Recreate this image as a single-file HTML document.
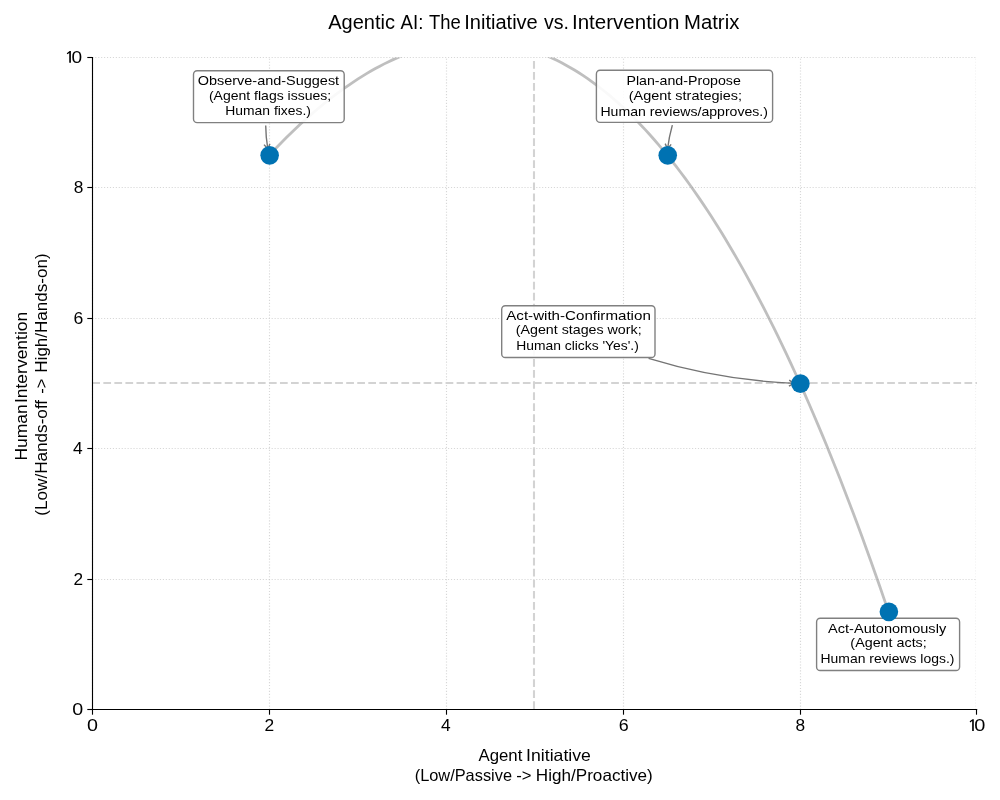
<!DOCTYPE html>
<html><head><meta charset="utf-8"><title>Agentic AI Matrix</title>
<style>
html,body{margin:0;padding:0;background:#fff;}
body{width:1000px;height:800px;overflow:hidden;}
svg{display:block;will-change:transform;font-family:"Liberation Sans",sans-serif;}
text{fill:#000;}
</style></head><body>
<svg width="1000" height="800" viewBox="0 0 1000 800">
<rect width="1000" height="800" fill="#fff"/>
<defs><clipPath id="ax"><rect x="92.30" y="57.40" width="884.65" height="652.20"/></clipPath></defs>
<g stroke="#b0b0b0" stroke-opacity="0.5" stroke-width="1.11" stroke-dasharray="1.11 1.83" fill="none"><path d="M92.5 709.60V57.40"/><path d="M92.30 709.5H976.95"/><path d="M269.5 709.60V57.40"/><path d="M92.30 579.5H976.95"/><path d="M446.5 709.60V57.40"/><path d="M92.30 448.5H976.95"/><path d="M623.5 709.60V57.40"/><path d="M92.30 318.5H976.95"/><path d="M800.5 709.60V57.40"/><path d="M92.30 187.5H976.95"/><path stroke-opacity="0.18" d="M975.5 709.60V57.40"/><path d="M92.30 57.5H976.95"/></g>
<g stroke="#d3d3d3" stroke-width="2.08" stroke-dasharray="7.71 3.33" fill="none"><path d="M92.30 383H976.95"/><path d="M534 709.00V57.40"/></g>
<polyline clip-path="url(#ax)" points="269.23,155.23 273.65,150.55 278.08,145.95 282.50,141.45 286.92,137.03 291.35,132.71 295.77,128.48 300.19,124.34 304.62,120.29 309.04,116.34 313.46,112.47 317.89,108.71 322.31,105.04 326.73,101.46 331.16,97.98 335.58,94.60 340.00,91.31 344.43,88.12 348.85,85.03 353.27,82.03 357.70,79.14 362.12,76.35 366.54,73.65 370.96,71.06 375.39,68.57 379.81,66.18 384.23,63.89 388.66,61.70 393.08,59.62 397.50,57.64 401.93,55.77 406.35,54.00 410.77,52.34 415.20,50.78 419.62,49.33 424.04,47.99 428.47,46.76 432.89,45.63 437.31,44.61 441.74,43.70 446.16,42.91 450.58,42.22 455.01,41.64 459.43,41.18 463.85,40.83 468.28,40.59 472.70,40.46 477.12,40.45 481.55,40.55 485.97,40.76 490.39,41.09 494.82,41.54 499.24,42.11 503.66,42.79 508.09,43.59 512.51,44.50 516.93,45.54 521.36,46.69 525.78,47.97 530.20,49.36 534.62,50.88 539.05,52.51 543.47,54.27 547.89,56.16 552.32,58.16 556.74,60.29 561.16,62.54 565.59,64.92 570.01,67.42 574.43,70.05 578.86,72.80 583.28,75.68 587.70,78.69 592.13,81.82 596.55,85.09 600.97,88.48 605.40,92.00 609.82,95.66 614.24,99.44 618.67,103.36 623.09,107.40 627.51,111.58 631.94,115.89 636.36,120.34 640.78,124.92 645.21,129.63 649.63,134.48 654.05,139.46 658.48,144.58 662.90,149.84 667.32,155.23 671.75,160.76 676.17,166.43 680.59,172.24 685.02,178.19 689.44,184.27 693.86,190.50 698.29,196.87 702.71,203.38 707.13,210.03 711.56,216.83 715.98,223.76 720.40,230.85 724.82,238.07 729.25,245.44 733.67,252.96 738.09,260.62 742.52,268.43 746.94,276.38 751.36,284.49 755.79,292.74 760.21,301.13 764.63,309.68 769.06,318.38 773.48,327.23 777.90,336.23 782.33,345.38 786.75,354.68 791.17,364.13 795.60,373.74 800.02,383.50 804.44,393.41 808.87,403.48 813.29,413.71 817.71,424.09 822.14,434.62 826.56,445.32 830.98,456.17 835.41,467.17 839.83,478.34 844.25,489.66 848.68,501.15 853.10,512.79 857.52,524.60 861.95,536.56 866.37,548.69 870.79,560.98 875.22,573.43 879.64,586.05 884.06,598.83 888.49,611.77" fill="none" stroke="#808080" stroke-opacity="0.5" stroke-width="2.78" stroke-linejoin="round"/>
<g stroke="#000" stroke-width="1.11" fill="none"><path d="M92.5 57.10V710.40"/><path d="M92.00 709.5H977.25"/><path d="M92.5 709.8v4.9"/><path d="M92.2 709.5h-4.9"/><path d="M269.5 709.8v4.9"/><path d="M92.2 579.5h-4.9"/><path d="M446.5 709.8v4.9"/><path d="M92.2 448.5h-4.9"/><path d="M623.5 709.8v4.9"/><path d="M92.2 318.5h-4.9"/><path d="M800.5 709.8v4.9"/><path d="M92.2 187.5h-4.9"/><path d="M976.5 709.8v4.9"/><path d="M92.2 57.5h-4.9"/></g>
<g stroke="#747474" stroke-width="1.39" fill="none" stroke-linecap="butt" stroke-linejoin="miter"><path d="M265.70 125.41Q265.81 137.25 267.83 149.07"/><path d="M264.03 144.65L267.83 149.07L269.94 143.64"/><path d="M672.34 125.09Q669.02 136.77 667.56 148.98"/><path d="M665.17 143.65L667.56 148.98L671.13 144.37"/><path d="M648.57 358.38Q719.14 380.14 794.04 383.36"/><path d="M788.91 386.14L794.04 383.36L789.17 380.15"/></g>
<rect x="193.50" y="70.80" width="150.70" height="51.80" rx="3.6" ry="3.6" fill="#fff" fill-opacity="0.9" stroke="#808080" stroke-width="1.39"/>
<rect x="596.40" y="70.30" width="176.20" height="52.10" rx="3.6" ry="3.6" fill="#fff" fill-opacity="0.9" stroke="#808080" stroke-width="1.39"/>
<rect x="501.70" y="305.80" width="153.30" height="51.70" rx="3.6" ry="3.6" fill="#fff" fill-opacity="0.9" stroke="#808080" stroke-width="1.39"/>
<rect x="816.60" y="618.30" width="143.00" height="52.20" rx="3.6" ry="3.6" fill="#fff" fill-opacity="0.9" stroke="#808080" stroke-width="1.39"/>
<circle cx="269.63" cy="155.33" r="9.3" fill="#0072B2"/>
<circle cx="667.72" cy="155.33" r="9.3" fill="#0072B2"/>
<circle cx="800.42" cy="383.60" r="9.3" fill="#0072B2"/>
<circle cx="888.88" cy="611.87" r="9.3" fill="#0072B2"/>
<text id="title0" x="328.21" y="28.50" font-size="19.60" textLength="66.75" lengthAdjust="spacingAndGlyphs">Agentic</text>
<text id="title1" x="400.55" y="28.50" font-size="19.60" textLength="22.76" lengthAdjust="spacingAndGlyphs">AI:</text>
<text id="title2" x="428.91" y="28.50" font-size="19.60" textLength="31.74" lengthAdjust="spacingAndGlyphs">The</text>
<text id="title3" x="464.22" y="28.50" font-size="19.60" textLength="73.56" lengthAdjust="spacingAndGlyphs">Initiative</text>
<text id="title4" x="544.06" y="28.50" font-size="19.60" textLength="24.99" lengthAdjust="spacingAndGlyphs">vs.</text>
<text id="title5" x="571.99" y="28.50" font-size="19.60" textLength="107.34" lengthAdjust="spacingAndGlyphs">Intervention</text>
<text id="title6" x="684.04" y="28.50" font-size="19.60" textLength="55.26" lengthAdjust="spacingAndGlyphs">Matrix</text>
<text id="xl1_0" x="478.45" y="760.90" font-size="16.50" textLength="43.86" lengthAdjust="spacingAndGlyphs">Agent</text>
<text id="xl1_1" x="526.14" y="760.90" font-size="16.50" textLength="64.72" lengthAdjust="spacingAndGlyphs">Initiative</text>
<text id="xl2_0" x="414.70" y="780.70" font-size="16.50" textLength="97.33" lengthAdjust="spacingAndGlyphs">(Low/Passive</text>
<text id="xl2_1" x="516.17" y="780.70" font-size="16.50" textLength="15.28" lengthAdjust="spacingAndGlyphs">-&gt;</text>
<text id="xl2_2" x="535.85" y="780.70" font-size="16.50" textLength="116.91" lengthAdjust="spacingAndGlyphs">High/Proactive)</text>
<text id="yl1_0" transform="translate(27.20 460.62) rotate(-90)" font-size="16.50" textLength="56.42" lengthAdjust="spacingAndGlyphs">Human</text>
<text id="yl1_1" transform="translate(27.20 403.11) rotate(-90)" font-size="16.50" textLength="91.41" lengthAdjust="spacingAndGlyphs">Intervention</text>
<text id="yl2_0" transform="translate(46.90 515.73) rotate(-90)" font-size="16.50" textLength="115.84" lengthAdjust="spacingAndGlyphs">(Low/Hands-off</text>
<text id="yl2_1" transform="translate(46.90 393.74) rotate(-90)" font-size="16.50" textLength="15.17" lengthAdjust="spacingAndGlyphs">-&gt;</text>
<text id="yl2_2" transform="translate(46.90 372.70) rotate(-90)" font-size="16.50" textLength="119.27" lengthAdjust="spacingAndGlyphs">High/Hands-on)</text>
<text id="yt0" x="72.19" y="714.90" font-size="16.40" textLength="10.96" lengthAdjust="spacingAndGlyphs">0</text>
<text id="yt2" x="73.47" y="584.90" font-size="16.40" textLength="9.61" lengthAdjust="spacingAndGlyphs">2</text>
<text id="yt4" x="73.02" y="453.90" font-size="16.40" textLength="9.67" lengthAdjust="spacingAndGlyphs">4</text>
<text id="yt6" x="73.63" y="323.90" font-size="16.40" textLength="9.82" lengthAdjust="spacingAndGlyphs">6</text>
<text id="yt8" x="73.74" y="192.90" font-size="16.40" textLength="9.62" lengthAdjust="spacingAndGlyphs">8</text>
<text id="yt10a" x="66.75" y="62.90" font-size="16.40" fill="none" style="fill:none">1</text>
<path d="M70.90 51.05L70.90 62.80L69.25 62.80L69.25 53.00L67.40 54.30L66.75 53.15L69.65 51.05Z" fill="#000"/>
<text id="yt10b" x="71.60" y="62.90" font-size="16.40" textLength="10.64" lengthAdjust="spacingAndGlyphs">0</text>
<text id="xt0" x="86.98" y="731.00" font-size="16.40" textLength="10.99" lengthAdjust="spacingAndGlyphs">0</text>
<text id="xt2" x="264.50" y="731.00" font-size="16.40" textLength="9.68" lengthAdjust="spacingAndGlyphs">2</text>
<text id="xt4" x="441.02" y="731.00" font-size="16.40" textLength="9.67" lengthAdjust="spacingAndGlyphs">4</text>
<text id="xt6" x="618.70" y="731.00" font-size="16.40" textLength="9.95" lengthAdjust="spacingAndGlyphs">6</text>
<text id="xt8" x="795.62" y="731.00" font-size="16.40" textLength="9.62" lengthAdjust="spacingAndGlyphs">8</text>
<text id="xt10a" x="969.80" y="731.00" font-size="16.40" fill="none" style="fill:none">1</text>
<path d="M973.80 719.15L973.80 730.90L972.15 730.90L972.15 721.10L970.30 722.40L969.65 721.25L972.55 719.15Z" fill="#000"/>
<text id="xt10b" x="974.27" y="731.00" font-size="16.40" textLength="11.11" lengthAdjust="spacingAndGlyphs">0</text>
<text id="a1_0" x="197.71" y="84.60" font-size="13.00" textLength="141.44" lengthAdjust="spacingAndGlyphs">Observe-and-Suggest</text>
<text id="a1_1" x="208.93" y="100.40" font-size="13.00" textLength="122.30" lengthAdjust="spacingAndGlyphs">(Agent flags issues;</text>
<text id="a1_2" x="225.24" y="114.80" font-size="13.00" textLength="85.71" lengthAdjust="spacingAndGlyphs">Human fixes.)</text>
<text id="a2_0" x="626.51" y="84.80" font-size="13.00" textLength="114.28" lengthAdjust="spacingAndGlyphs">Plan-and-Propose</text>
<text id="a2_1" x="628.79" y="99.80" font-size="13.00" textLength="113.20" lengthAdjust="spacingAndGlyphs">(Agent strategies;</text>
<text id="a2_2" x="600.43" y="115.50" font-size="13.00" textLength="167.53" lengthAdjust="spacingAndGlyphs">Human reviews/approves.)</text>
<text id="a3_0" x="506.25" y="319.50" font-size="13.00" textLength="144.55" lengthAdjust="spacingAndGlyphs">Act-with-Confirmation</text>
<text id="a3_1" x="515.75" y="333.90" font-size="13.00" textLength="125.84" lengthAdjust="spacingAndGlyphs">(Agent stages work;</text>
<text id="a3_2" x="516.25" y="349.50" font-size="13.00" textLength="122.57" lengthAdjust="spacingAndGlyphs">Human clicks 'Yes'.)</text>
<text id="a4_0" x="828.08" y="632.50" font-size="13.00" textLength="118.09" lengthAdjust="spacingAndGlyphs">Act-Autonomously</text>
<text id="a4_1" x="850.36" y="647.10" font-size="13.00" textLength="76.39" lengthAdjust="spacingAndGlyphs">(Agent acts;</text>
<text id="a4_2" x="820.47" y="663.40" font-size="13.00" textLength="133.97" lengthAdjust="spacingAndGlyphs">Human reviews logs.)</text>
</svg>
</body></html>
